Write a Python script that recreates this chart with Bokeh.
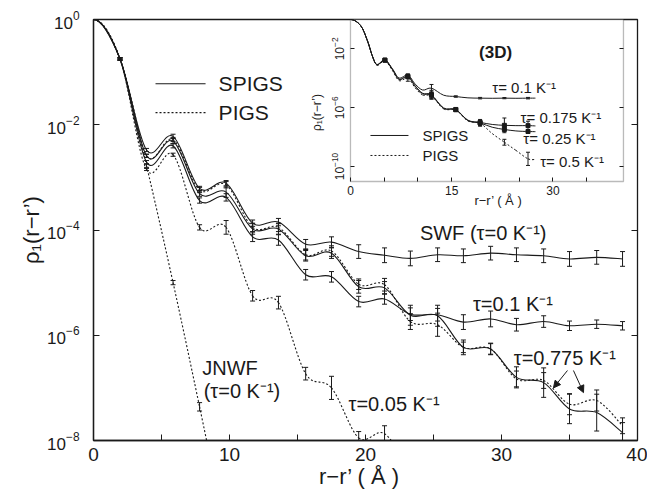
import math
from bokeh.plotting import figure
from bokeh.models import (Range1d, LogScale, LinearAxis, LogAxis, FixedTicker, Whisker, TeeHead,
                          ColumnDataSource, Arrow, NormalHead, BoxAnnotation,
                          CustomJSTickFormatter)
from bokeh.core.properties import value
from bokeh.embed import file_html
from bokeh.resources import INLINE

FONT = "Liberation Sans"
INK = "#1a1a1a"

# ---------------- main panel data (log10 of rho_1) ----------------
r_main = [0, 1.95, 3.9, 5.85, 7.8, 9.75, 11.7, 13.6, 15.6, 17.5, 19.5, 21.4,
          23.3, 25.3, 27.2, 29.2, 31.1, 33.1, 35.0, 37.0, 38.9]
swf = [0, -0.75, -2.48, -2.22, -3.21, -3.11, -3.87, -3.85, -4.27, -4.23, -4.41, -4.48,
       -4.54, -4.47, -4.49, -4.44, -4.47, -4.49, -4.55, -4.52, -4.55]
swf_err = [0, 0.02, 0.03, 0.04, 0.04, 0.05, 0.06, 0.07, 0.09, 0.1, 0.13, 0.14,
           0.14, 0.13, 0.13, 0.13, 0.13, 0.13, 0.14, 0.13, 0.14]
tau01 = [0, -0.75, -2.71, -2.40, -3.44, -3.38, -4.13, -4.19, -4.85, -4.89, -5.36, -5.31,
         -5.60, -5.61, -5.75, -5.69, -5.80, -5.74, -5.82, -5.79, -5.82]
tau01_err = [0, 0.02, 0.03, 0.04, 0.05, 0.07, 0.09, 0.1, 0.1, 0.1, 0.1, 0.1,
             0.12, 0.12, 0.14, 0.15, 0.12, 0.11, 0.09, 0.08, 0.08]
tau775_spigs = [0, -0.75, -2.59, -2.31, -3.31, -3.28, -3.98, -3.98, -4.49, -4.44, -5.08, -5.10,
                -5.62, -5.63, -6.23, -6.26, -6.80, -6.90, -7.40, -7.47, -7.85]
tau775_spigs_err = [0, 0.02, 0.03, 0.05, 0.05, 0.1, 0.1, 0.1, 0.1, 0.1, 0.12, 0.12,
                    0.19, 0.2, 0.14, 0.11, 0.2, 0.28, 0.28, 0.35, 0.19]
tau775_pigs = [0, -0.75, -2.59, -2.28, -3.24, -3.14, -3.95, -3.95, -4.47, -4.40, -5.03, -5.04,
               -5.74, -5.80, -6.23, -6.26, -6.83, -6.86, -7.31, -7.24, -7.72]
tau775_pigs_err = [0, 0.02, 0.03, 0.04, 0.05, 0.06, 0.08, 0.08, 0.1, 0.1, 0.1, 0.12,
                   0.15, 0.22, 0.1, 0.1, 0.15, 0.15, 0.2, 0.2, 0.15]
tau005 = [0, -0.75, -2.85, -2.57, -3.95, -3.95, -5.25, -5.38, -6.73, -7.00, -7.95, -7.87, -8.6]
tau005_err = [0, 0.02, 0.02, 0.03, 0.05, 0.13, 0.1, 0.12, 0.12, 0.22, 0.12, 0.15, 0]
jnwf = [0, -0.75, -2.78, -5.00, -7.36, -9.8]
jnwf_err = [0, 0.02, 0.03, 0.04, 0.08, 0]

# ---------------- inset (3D) data ----------------
r_in = [0, 1.5, 2.5, 3.3, 3.95, 5.1, 6.2, 7.2, 8.5, 9.6, 10.7, 12.0, 13.8, 15.6, 17.4,
        19.2, 21.0, 22.8, 24.5, 26.3, 27.4]
in_marks = [5, 8, 11, 13, 15, 17, 19]  # indices carrying error bars
in_tau01 = [0, -0.41, -1.43, -2.56, -3.06, -2.74, -3.34, -3.98, -3.78, -4.40, -4.80, -4.67,
            -5.15, -5.24, -5.33, -5.35, -5.36, -5.35, -5.36, -5.35, -5.35]
in_tau01_err = [0.06, 0.08, 0.25, 0.05, 0.05, 0.04, 0.05]
in_tau0175 = [0, -0.41, -1.43, -2.56, -3.08, -2.76, -3.38, -4.06, -3.86, -4.52, -5.02, -5.12,
              -6.02, -6.12, -6.85, -7.00, -7.14, -7.20, -7.22, -7.22, -7.24]
in_tau0175_err = [0.06, 0.1, 0.3, 0.08, 0.2, 0.5, 0.3]
in_tau025 = [0, -0.41, -1.43, -2.56, -3.08, -2.77, -3.40, -4.08, -3.90, -4.56, -5.06, -5.16,
             -6.05, -6.14, -6.88, -7.04, -7.33, -7.48, -7.58, -7.62, -7.63]
in_tau025_err = [0.05, 0.1, 0.2, 0.08, 0.15, 0.1, 0.1]
in_tau05 = [0, -0.41, -1.43, -2.56, -3.12, -2.82, -3.46, -4.16, -4.00, -4.66, -5.14, -5.20,
            -6.08, -6.16, -6.90, -7.06, -7.76, -8.35, -8.90, -9.48, -9.52]
in_tau05_err = [0.05, 0.2, 0.2, 0.08, 0.2, 0.2, 0.45]

x_ticks = [0, 5, 10, 15, 20, 25, 30, 35, 40]
y_ticks = [1, 1e-2, 1e-4, 1e-6, 1e-8]
in_x_ticks = [0, 5, 10, 15, 20, 25, 30, 35]
in_y_ticks = [1e-2, 1e-6, 1e-10]


def smooth(xs, ls):
    """Catmull-Rom -> cubic Bezier control points in (x, log10 y) space."""
    n = len(xs)

    def pt(i):
        if i < 0:
            return (2 * xs[0] - xs[1], ls[1])   # symmetric start (flat at r=0)
        if i >= n:
            return (xs[n - 1], ls[n - 1])
        return (xs[i], ls[i])

    d = dict(x0=[], y0=[], x1=[], y1=[], cx0=[], cy0=[], cx1=[], cy1=[])
    for i in range(n - 1):
        xa, la = pt(i - 1)
        xb, lb = pt(i)
        xc, lc = pt(i + 1)
        xd, ld = pt(i + 2)
        d["x0"].append(xb); d["y0"].append(10 ** lb)
        d["x1"].append(xc); d["y1"].append(10 ** lc)
        d["cx0"].append(xb + (xc - xa) / 6); d["cy0"].append(10 ** (lb + (lc - la) / 6))
        d["cx1"].append(xc - (xd - xb) / 6); d["cy1"].append(10 ** (lc - (ld - lb) / 6))
    return ColumnDataSource(d)


def bars(xs, ls, errs, head=5, **rng):
    bx, bu, bl = [], [], []
    for x, l, e in zip(xs, ls, errs):
        if e > 0:
            bx.append(x); bu.append(10 ** (l + e)); bl.append(10 ** (l - e))
    src = ColumnDataSource(dict(x=bx, u=bu, l=bl))
    return Whisker(source=src, base="x", upper="u", lower="l", dimension="height",
                   line_color=INK, line_width=1,
                   upper_head=TeeHead(size=head, line_color=INK, line_width=1),
                   lower_head=TeeHead(size=head, line_color=INK, line_width=1), **rng)


BEZ = dict(x0="x0", y0="y0", x1="x1", y1="y1", cx0="cx0", cy0="cy0", cx1="cx1", cy1="cy1")

p = figure(width=647, height=495, x_range=Range1d(0, 40), y_range=Range1d(1e-8, 1),
           y_axis_type="log", output_backend="svg", toolbar_location=None,
           min_border_left=93, min_border_right=10, min_border_top=19, min_border_bottom=55)
p.grid.visible = False
p.outline_line_color = INK
p.outline_line_width = 1.3
p.background_fill_color = "white"
p.border_fill_color = "white"

# main axes
xa = p.xaxis[0]
xa.ticker = FixedTicker(ticks=x_ticks, minor_ticks=[])
xa.major_label_overrides = {5: "", 15: "", 25: "", 35: ""}
ya = p.yaxis[0]
ya.ticker = FixedTicker(ticks=y_ticks, minor_ticks=[])
for ax in (xa, ya):
    ax.major_tick_in = 6
    ax.major_tick_out = 0
    ax.minor_tick_line_color = None
    ax.axis_line_color = INK
    ax.axis_line_width = 1.3
    ax.major_tick_line_color = INK
    ax.major_label_text_font = FONT
    ax.major_label_text_color = INK
    ax.axis_label_text_font = FONT
    ax.axis_label_text_font_size = "22px"
    ax.axis_label_text_font_style = "normal"
    ax.axis_label_text_color = INK
    ax.axis_label_standoff = 0
xa.major_label_text_font_size = "19px"
xa.major_label_standoff = 7
xa.axis_label = "r−r’   ( Å )"
ya.major_label_text_font_size = "17px"
ya.major_label_standoff = 14
ya.axis_label = "ρ₁(r−r’)"

blank = CustomJSTickFormatter(code="return ''")
ra = LogAxis(ticker=FixedTicker(ticks=y_ticks, minor_ticks=[]), fixed_location=40,
             major_tick_in=6, major_tick_out=0, axis_line_color=None,
             major_tick_line_color=INK, minor_tick_line_color=None, formatter=blank)
p.add_layout(ra, "right")

# main curves
solid = dict(line_color=INK, line_width=1.1)
dotted = dict(line_color=INK, line_width=1.1, line_dash="2 2")
p.bezier(source=smooth(r_main, swf), **BEZ, **solid)
p.bezier(source=smooth(r_main, tau01), **BEZ, **solid)
p.bezier(source=smooth(r_main, tau775_spigs), **BEZ, **solid)
p.bezier(source=smooth(r_main, tau775_pigs), **BEZ, **dotted)
p.bezier(source=smooth(r_main[:len(tau005)], tau005), **BEZ, **dotted)
p.bezier(source=smooth(r_main[:len(jnwf)], jnwf), **BEZ, **dotted)

p.add_layout(bars(r_main, swf, swf_err))
p.add_layout(bars(r_main, tau01, tau01_err))
p.add_layout(bars(r_main, tau775_spigs, tau775_spigs_err))
p.add_layout(bars(r_main, tau775_pigs, tau775_pigs_err))
p.add_layout(bars(r_main[:len(tau005)], tau005, tau005_err))
p.add_layout(bars(r_main[:len(jnwf)], jnwf, jnwf_err))

# main legend (manual)
p.segment(x0=[4.56], y0=[10 ** -1.22], x1=[8.24], y1=[10 ** -1.22], **solid)
p.segment(x0=[4.56], y0=[10 ** -1.77], x1=[8.24], y1=[10 ** -1.77], **dotted)
p.text(x=[9.2, 9.2], y=[10 ** -1.22, 10 ** -1.77], text=["SPIGS", "PIGS"],
       text_font=value(FONT), text_font_size="21px", text_baseline="middle",
       text_align="left", text_color=INK)

# main annotations
p.text(x=[24.0, 27.9, 30.9, 18.75, 8.0, 8.1],
       y=[10 ** -4.05, 10 ** -5.40, 10 ** -6.44, 10 ** -7.30, 10 ** -6.62, 10 ** -7.05],
       text=["SWF (τ=0 K⁻¹)", "τ=0.1 K⁻¹", "τ=0.775 K⁻¹", "τ=0.05 K⁻¹", "JNWF", "(τ=0 K⁻¹)"],
       text_font=value(FONT), text_font_size="20px", text_baseline="middle",
       text_align="left", text_color=INK)
p.add_layout(Arrow(end=NormalHead(size=7, fill_color=INK, line_color=INK),
                   x_start=34.85, y_start=10 ** -6.67, x_end=33.82, y_end=10 ** -7.0,
                   line_color=INK, line_width=1))
p.add_layout(Arrow(end=NormalHead(size=7, fill_color=INK, line_color=INK),
                   x_start=35.29, y_start=10 ** -6.67, x_end=36.03, y_end=10 ** -7.09,
                   line_color=INK, line_width=1))

# ---------------- inset via extra ranges ----------------
IN_R = 40.44
IN_B = 10 ** -11.02
p.extra_x_ranges = {"ix": Range1d(-38.07, 42.52)}
p.extra_y_ranges = {"iy": Range1d(10 ** -28.64, 1)}
p.extra_y_scales = {"iy": LogScale()}
irng = dict(x_range_name="ix", y_range_name="iy")

p.add_layout(BoxAnnotation(left=0, right=IN_R, bottom=IN_B, top=1, fill_color="white",
                           fill_alpha=1, line_color=INK, line_width=1.3, level="underlay",
                           **irng))

ib = LinearAxis(fixed_location=IN_B, bounds=(0, IN_R),
                ticker=FixedTicker(ticks=in_x_ticks, minor_ticks=[]),
                major_label_overrides={5: "", 10: "", 20: "", 25: "", 35: ""},
                major_tick_in=4, major_tick_out=0, axis_line_color=None,
                major_tick_line_color=INK, minor_tick_line_color=None,
                major_label_text_font=FONT, major_label_text_font_size="12px",
                major_label_text_color=INK, major_label_standoff=5, **irng)
p.add_layout(ib, "below")
il = LogAxis(fixed_location=0, bounds=(IN_B, 1),
             ticker=FixedTicker(ticks=in_y_ticks, minor_ticks=[]),
             major_label_orientation="parallel",
             major_tick_in=4, major_tick_out=0, axis_line_color=None,
             major_tick_line_color=INK, minor_tick_line_color=None,
             major_label_text_font=FONT, major_label_text_font_size="12px",
             major_label_text_color=INK, major_label_standoff=6, **irng)
p.add_layout(il, "left")
ir = LogAxis(fixed_location=IN_R, bounds=(IN_B, 1),
             ticker=FixedTicker(ticks=in_y_ticks, minor_ticks=[]),
             major_tick_in=4, major_tick_out=0, axis_line_color=None,
             major_tick_line_color=INK, minor_tick_line_color=None,
             formatter=CustomJSTickFormatter(code="return ''"), **irng)
p.add_layout(ir, "right")

thin = dict(line_color=INK, line_width=1)
for series in (in_tau01, in_tau0175, in_tau025):
    p.bezier(source=smooth(r_in, series), **BEZ, **thin, **irng)
p.bezier(source=smooth(r_in, in_tau05), **BEZ, line_color=INK, line_width=1,
         line_dash="2 2", **irng)

mx = [r_in[i] for i in in_marks]
for series, errs in ((in_tau01, in_tau01_err), (in_tau0175, in_tau0175_err),
                     (in_tau025, in_tau025_err), (in_tau05, in_tau05_err)):
    my = [series[i] for i in in_marks]
    p.add_layout(bars(mx, my, errs, head=4, **irng))
for series in (in_tau0175, in_tau025):
    p.scatter(x=mx, y=[10 ** series[i] for i in in_marks], marker="square", size=4,
              fill_color=INK, line_color=INK, **irng)

p.text(x=[21.5], y=[10 ** -2.24], text=["(3D)"], text_font=value(FONT),
       text_font_size="17px", text_font_style="bold", text_align="center",
       text_baseline="middle", text_color=INK, **irng)
p.text(x=[21.0, 25.2, 25.6, 28.1],
       y=[10 ** -4.63, 10 ** -6.67, 10 ** -8.10, 10 ** -9.66],
       text=["τ= 0.1 K⁻¹", "τ= 0.175 K⁻¹", "τ= 0.25 K⁻¹", "τ= 0.5 K⁻¹"],
       text_font=value(FONT), text_font_size="15px", text_align="left",
       text_baseline="middle", text_color=INK, **irng)
p.segment(x0=[2.96], y0=[10 ** -7.89], x1=[8.59], y1=[10 ** -7.89], **thin, **irng)
p.segment(x0=[2.96], y0=[10 ** -9.25], x1=[8.59], y1=[10 ** -9.25], line_dash="2 2", **thin, **irng)
p.text(x=[10.67, 10.67], y=[10 ** -7.89, 10 ** -9.25], text=["SPIGS", "PIGS"],
       text_font=value(FONT), text_font_size="15px", text_align="left",
       text_baseline="middle", text_color=INK, **irng)
p.text(x=[21.9], y=[10 ** -12.31], text=["r−r’ ( Å )"], text_font=value(FONT),
       text_font_size="13px", text_align="center", text_baseline="middle",
       text_color=INK, **irng)
p.text(x=[-4.89], y=[10 ** -6.33], text=["ρ₁(r−r’)"], angle=math.pi / 2,
       text_font=value(FONT), text_font_size="12px", text_align="center",
       text_baseline="middle", text_color=INK, **irng)

open("out.html", "w").write(file_html(p, INLINE))
